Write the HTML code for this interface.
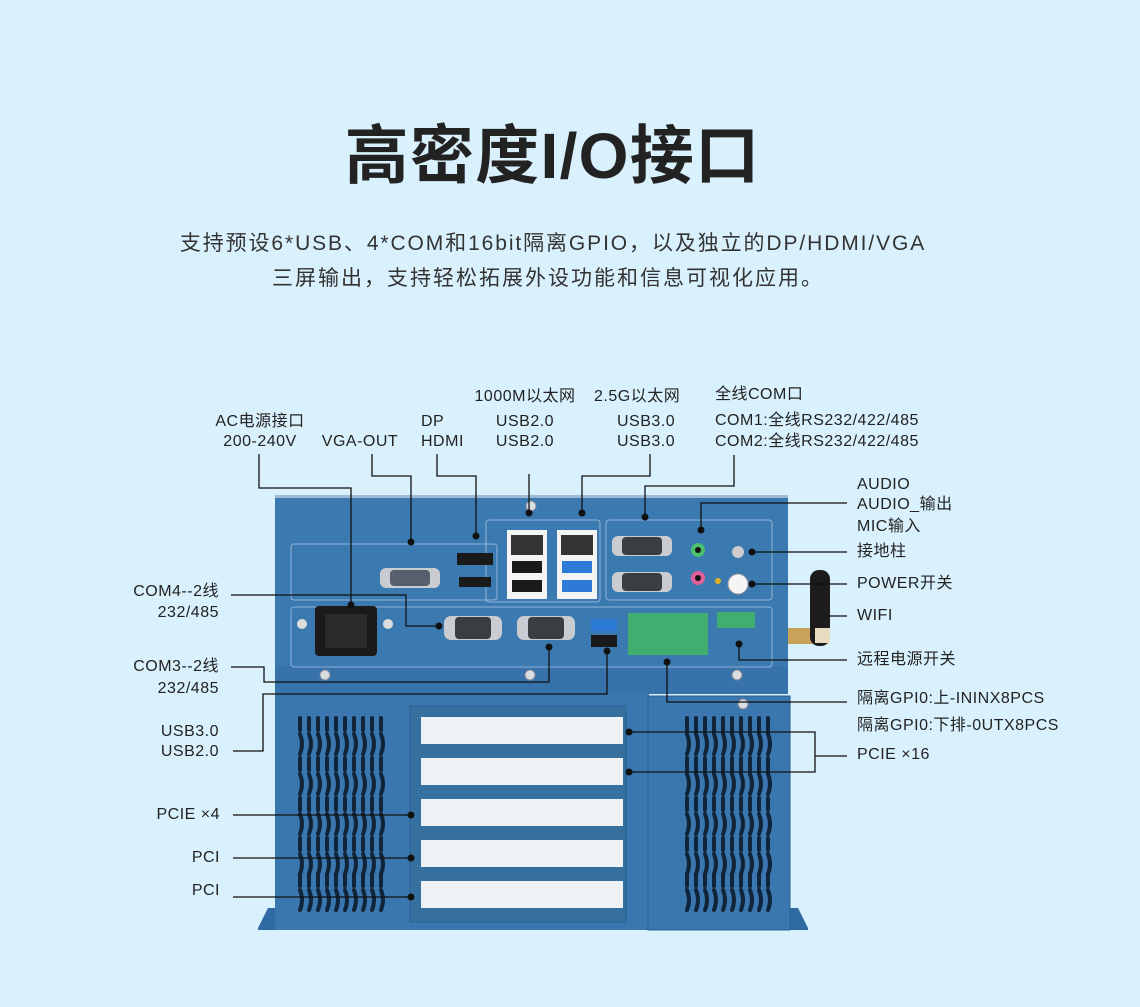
<!DOCTYPE html>
<html><head><meta charset="utf-8"><style>
body{margin:0}
#c{position:relative;width:1140px;height:1007px;background:#d9f1fd;overflow:hidden;font-family:"Liberation Sans","Noto Sans CJK SC",sans-serif;color:#222}
.t{position:absolute;white-space:nowrap;font-size:16px;line-height:20px;letter-spacing:0.5px}
.r{text-align:right}
.c{text-align:center}
</style></head><body><div id="c">
<div class="t c" style="left:0;width:1105px;top:116px;font-size:64px;line-height:80px;font-weight:bold;color:#222;letter-spacing:1.3px">高密度I/O接口</div>
<div class="t c" style="left:0;width:1106px;top:230px;font-size:21px;line-height:28px;color:#333;letter-spacing:1.9px">支持预设6*USB、4*COM和16bit隔离GPIO，以及独立的DP/HDMI/VGA</div>
<div class="t c" style="left:0;width:1096px;top:265px;font-size:21px;line-height:28px;color:#333;letter-spacing:2px">三屏输出，支持轻松拓展外设功能和信息可视化应用。</div>

<svg style="position:absolute;left:0;top:0" width="1140" height="1007">
<polygon points="258,928 268,908 285,908 285,930 258,930" fill="#2f6aa3"/>
<polygon points="808,928 798,908 780,908 780,930 808,930" fill="#2f6aa3"/>
<rect x="788" y="628" width="40" height="16" fill="#c9a25a"/>
<rect x="810" y="570" width="20" height="76" rx="9" fill="#1c1c1c"/>
<rect x="815" y="628" width="15" height="15" fill="#e8dcc0"/>
<rect x="275" y="495" width="513" height="172" fill="#3b79b1"/>
<rect x="275" y="495" width="513" height="3" fill="#9fbad4"/>
<rect x="275" y="666" width="513" height="28" fill="#3772ab"/>
<rect x="275" y="694" width="374" height="236" fill="#3a77af"/>
<rect x="648" y="696" width="142" height="234" fill="#3a77af" stroke="#2d5f92"/>
<g fill="none" stroke="#8fb3d6" stroke-width="1">
<rect x="291" y="544" width="206" height="56" rx="3"/>
<rect x="486" y="520" width="114" height="82" rx="3"/>
<rect x="606" y="520" width="166" height="80" rx="3"/>
<rect x="291" y="607" width="481" height="60" rx="3"/>
</g>
<rect x="410" y="706" width="216" height="216" fill="#35709f" stroke="#2a5f8f"/>
<g fill="#eef2f5">
<rect x="421" y="717" width="202" height="27"/><rect x="421" y="758" width="202" height="27"/>
<rect x="421" y="799" width="202" height="27"/><rect x="421" y="840" width="202" height="27"/>
<rect x="421" y="881" width="202" height="27"/>
</g>
<g stroke="#10243a" stroke-width="4" stroke-linecap="round" fill="none" id="v">
<path d="M300 718v12M309 718v12M318 718v12M327 718v12M336 718v12M345 718v12M354 718v12M363 718v12M372 718v12M381 718v12"/>
<path d="M300 734 q4 10 0 20M309 734 q4 10 0 20M318 734 q4 10 0 20M327 734 q4 10 0 20M336 734 q4 10 0 20M345 734 q4 10 0 20M354 734 q4 10 0 20M363 734 q4 10 0 20M372 734 q4 10 0 20M381 734 q4 10 0 20"/>
</g>
<use href="#v" y="40"/><use href="#v" y="80"/><use href="#v" y="120"/><use href="#v" y="156"/>
<use href="#v" x="387"/><use href="#v" x="387" y="40"/><use href="#v" x="387" y="80"/><use href="#v" x="387" y="120"/><use href="#v" x="387" y="156"/>
<rect x="315" y="606" width="62" height="50" rx="4" fill="#1a1a1a"/>
<rect x="325" y="614" width="42" height="34" fill="#2a2a2a"/>
<circle cx="302" cy="624" r="5" fill="#ddd"/><circle cx="388" cy="624" r="5" fill="#ddd"/>
<rect x="380" y="568" width="60" height="20" rx="6" fill="#c9cdd2"/><rect x="390" y="570" width="40" height="16" rx="4" fill="#55606c"/>
<rect x="457" y="553" width="36" height="12" fill="#1a1a1a"/><rect x="459" y="577" width="32" height="10" fill="#1a1a1a"/>
<rect x="507" y="530" width="40" height="69" fill="#f4f4f4"/><rect x="511" y="535" width="32" height="20" fill="#333"/>
<rect x="512" y="561" width="30" height="12" fill="#1a1a1a"/><rect x="512" y="580" width="30" height="12" fill="#1a1a1a"/>
<rect x="557" y="530" width="40" height="69" fill="#f4f4f4"/><rect x="561" y="535" width="32" height="20" fill="#333"/>
<rect x="562" y="561" width="30" height="12" fill="#2d7bd6"/><rect x="562" y="580" width="30" height="12" fill="#2d7bd6"/>
<rect x="612" y="536" width="60" height="20" rx="6" fill="#c9cdd2"/><rect x="622" y="537" width="40" height="18" rx="4" fill="#3a3d42"/>
<rect x="612" y="572" width="60" height="20" rx="6" fill="#c9cdd2"/><rect x="622" y="573" width="40" height="18" rx="4" fill="#3a3d42"/>
<circle cx="698" cy="550" r="7" fill="#4bbf6a"/><circle cx="698" cy="550" r="3" fill="#111"/>
<circle cx="698" cy="578" r="7" fill="#e0609a"/><circle cx="698" cy="578" r="3" fill="#111"/>
<circle cx="738" cy="552" r="6" fill="#ccc"/><circle cx="738" cy="584" r="10" fill="#f5f5f5" stroke="#999"/>
<circle cx="718" cy="581" r="3" fill="#e0b020"/>
<rect x="444" y="616" width="58" height="24" rx="7" fill="#c9cdd2"/><rect x="455" y="617" width="36" height="22" rx="4" fill="#3a3d42"/>
<rect x="517" y="616" width="58" height="24" rx="7" fill="#c9cdd2"/><rect x="528" y="617" width="36" height="22" rx="4" fill="#3a3d42"/>
<rect x="591" y="619" width="26" height="12" fill="#2d7bd6"/><rect x="591" y="635" width="26" height="12" fill="#1a1a1a"/>
<rect x="628" y="613" width="80" height="42" fill="#3fae6e"/>
<rect x="717" y="612" width="38" height="16" fill="#3fae6e"/>
<g fill="#d8dde2" stroke="#889"><circle cx="531" cy="506" r="5"/><circle cx="325" cy="675" r="5"/><circle cx="530" cy="675" r="5"/><circle cx="737" cy="675" r="5"/><circle cx="743" cy="704" r="5"/></g>
<g stroke="#111" stroke-width="1.3" fill="none">
<polyline points="259,454 259,488 351,488 351,605"/>
<polyline points="372,454 372,476 411,476 411,542"/>
<polyline points="437,454 437,476 476,476 476,536"/>
<polyline points="529,474 529,513"/>
<polyline points="650,454 650,476 582,476 582,513"/>
<polyline points="734,455 734,486 645,486 645,517"/>
<polyline points="847,503 701,503 701,530"/>
<polyline points="847,552 752,552"/>
<polyline points="847,584 752,584"/>
<polyline points="847,616 827,616"/>
<polyline points="847,660 739,660 739,644"/>
<polyline points="847,702 667,702 667,662"/>
<polyline points="847,756 815,756"/>
<polyline points="629,732 815,732 815,772 629,772"/>
<polyline points="231,595 406,595 406,626 439,626"/>
<polyline points="231,667 264,667 264,682 549,682 549,647"/>
<polyline points="233,751 263,751 263,694 607,694 607,651"/>
<polyline points="233,815 411,815"/>
<polyline points="233,858 411,858"/>
<polyline points="233,897 411,897"/>
</g>
<g fill="#111">
<circle cx="351" cy="605" r="3.5"/><circle cx="411" cy="542" r="3.5"/><circle cx="476" cy="536" r="3.5"/>
<circle cx="529" cy="513" r="3.5"/><circle cx="582" cy="513" r="3.5"/><circle cx="645" cy="517" r="3.5"/>
<circle cx="701" cy="530" r="3.5"/><circle cx="752" cy="552" r="3.5"/><circle cx="752" cy="584" r="3.5"/>
<circle cx="739" cy="644" r="3.5"/><circle cx="667" cy="662" r="3.5"/><circle cx="629" cy="732" r="3.5"/><circle cx="629" cy="772" r="3.5"/>
<circle cx="439" cy="626" r="3.5"/><circle cx="549" cy="647" r="3.5"/><circle cx="607" cy="651" r="3.5"/>
<circle cx="411" cy="815" r="3.5"/><circle cx="411" cy="858" r="3.5"/><circle cx="411" cy="897" r="3.5"/>
</g>
</svg>

<div class="t c" style="left:200px;width:120px;top:412px">AC电源接口</div>
<div class="t c" style="left:200px;width:120px;top:432px">200-240V</div>
<div class="t c" style="left:310px;width:100px;top:432px">VGA-OUT</div>
<div class="t" style="left:421px;top:412px">DP</div>
<div class="t" style="left:421px;top:432px">HDMI</div>
<div class="t c" style="left:465px;width:120px;top:387px">1000M以太网</div>
<div class="t c" style="left:465px;width:120px;top:412px">USB2.0</div>
<div class="t c" style="left:465px;width:120px;top:432px">USB2.0</div>
<div class="t" style="left:594px;top:387px">2.5G以太网</div>
<div class="t" style="left:617px;top:412px">USB3.0</div>
<div class="t" style="left:617px;top:432px">USB3.0</div>
<div class="t" style="left:715px;top:385px">全线COM口</div>
<div class="t" style="left:715px;top:411px">COM1:全线RS232/422/485</div>
<div class="t" style="left:715px;top:432px">COM2:全线RS232/422/485</div>
<div class="t" style="left:857px;top:475px">AUDIO</div>
<div class="t" style="left:857px;top:495px">AUDIO_输出</div>
<div class="t" style="left:857px;top:517px">MIC输入</div>
<div class="t" style="left:857px;top:542px">接地柱</div>
<div class="t" style="left:857px;top:574px">POWER开关</div>
<div class="t" style="left:857px;top:606px">WIFI</div>
<div class="t" style="left:857px;top:650px">远程电源开关</div>
<div class="t" style="left:857px;top:689px">隔离GPI0:上-ININX8PCS</div>
<div class="t" style="left:857px;top:716px">隔离GPI0:下排-0UTX8PCS</div>
<div class="t" style="left:857px;top:745px">PCIE ×16</div>
<div class="t r" style="left:100px;width:119px;top:582px">COM4--2线</div>
<div class="t r" style="left:100px;width:119px;top:603px">232/485</div>
<div class="t r" style="left:100px;width:119px;top:657px">COM3--2线</div>
<div class="t r" style="left:100px;width:119px;top:679px">232/485</div>
<div class="t r" style="left:100px;width:119px;top:722px">USB3.0</div>
<div class="t r" style="left:100px;width:119px;top:742px">USB2.0</div>
<div class="t r" style="left:100px;width:120px;top:805px">PCIE ×4</div>
<div class="t r" style="left:100px;width:120px;top:848px">PCI</div>
<div class="t r" style="left:100px;width:120px;top:881px">PCI</div>
</div></body></html>
